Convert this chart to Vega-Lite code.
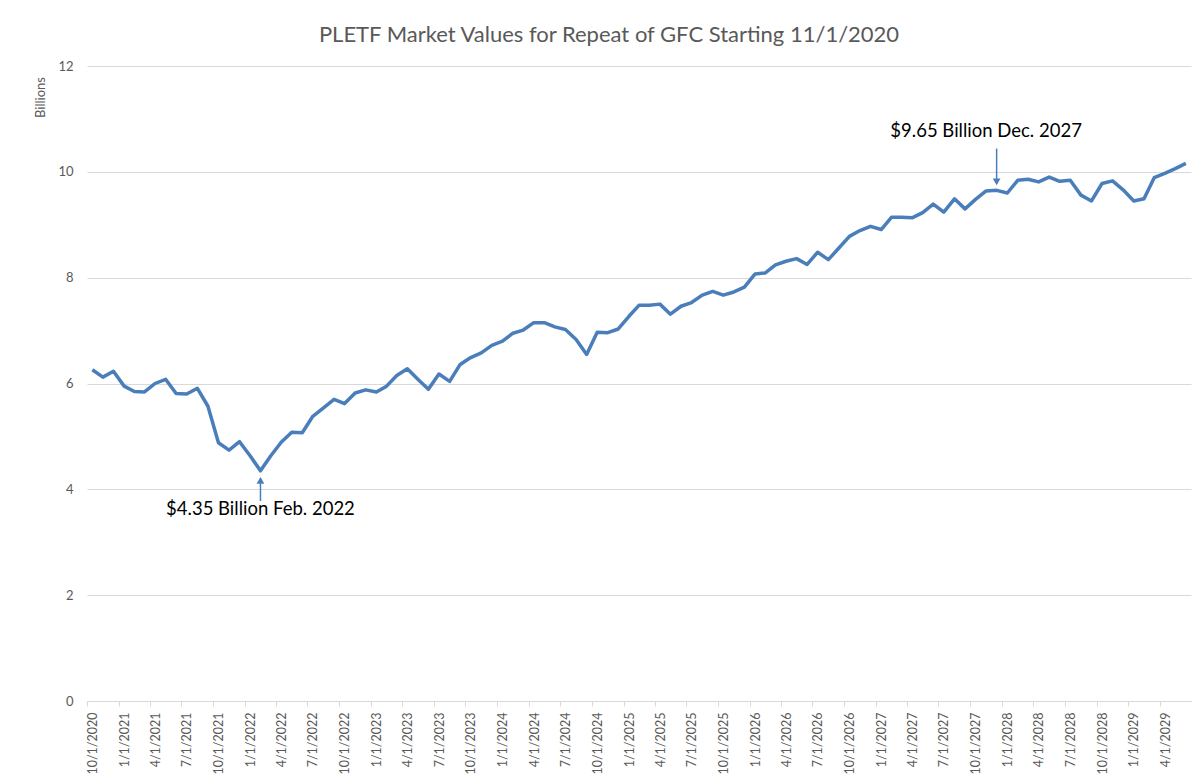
{
  "$schema": "https://vega.github.io/schema/vega-lite/v6.json",
  "autosize": {"type": "none"},
  "padding": {"left": 87, "top": 66, "right": 13, "bottom": 76},
  "width": 1104,
  "height": 635,
  "background": "white",
  "title": {
    "text": "PLETF Market Values for Repeat of GFC Starting 11/1/2020",
    "anchor": "middle",
    "frame": "group",
    "dx": -30,
    "offset": 13,
    "font": "Lato",
    "fontSize": 22,
    "fontWeight": "normal",
    "color": "#595959"
  },
  "config": {
    "view": {"stroke": null},
    "font": "Lato",
    "axis": {"labelOverlap": false}
  },
  "encoding": {
    "x": {
      "field": "date",
      "timeUnit": "yearmonth",
      "type": "temporal",
      "bandPosition": 0.5,
      "scale": {
        "domain": [{"year": 2020, "month": 10, "date": 1}, {"year": 2029, "month": 7, "date": 1}],
        "nice": false
      },
      "axis": {
        "title": null,
        "values": [
          {"year": 2020, "month": 10, "date": 1},
          {"year": 2021, "month": 1, "date": 1}, {"year": 2021, "month": 4, "date": 1}, {"year": 2021, "month": 7, "date": 1}, {"year": 2021, "month": 10, "date": 1},
          {"year": 2022, "month": 1, "date": 1}, {"year": 2022, "month": 4, "date": 1}, {"year": 2022, "month": 7, "date": 1}, {"year": 2022, "month": 10, "date": 1},
          {"year": 2023, "month": 1, "date": 1}, {"year": 2023, "month": 4, "date": 1}, {"year": 2023, "month": 7, "date": 1}, {"year": 2023, "month": 10, "date": 1},
          {"year": 2024, "month": 1, "date": 1}, {"year": 2024, "month": 4, "date": 1}, {"year": 2024, "month": 7, "date": 1}, {"year": 2024, "month": 10, "date": 1},
          {"year": 2025, "month": 1, "date": 1}, {"year": 2025, "month": 4, "date": 1}, {"year": 2025, "month": 7, "date": 1}, {"year": 2025, "month": 10, "date": 1},
          {"year": 2026, "month": 1, "date": 1}, {"year": 2026, "month": 4, "date": 1}, {"year": 2026, "month": 7, "date": 1}, {"year": 2026, "month": 10, "date": 1},
          {"year": 2027, "month": 1, "date": 1}, {"year": 2027, "month": 4, "date": 1}, {"year": 2027, "month": 7, "date": 1}, {"year": 2027, "month": 10, "date": 1},
          {"year": 2028, "month": 1, "date": 1}, {"year": 2028, "month": 4, "date": 1}, {"year": 2028, "month": 7, "date": 1}, {"year": 2028, "month": 10, "date": 1},
          {"year": 2029, "month": 1, "date": 1}, {"year": 2029, "month": 4, "date": 1}
        ],
        "format": "%-m/%-d/%Y",
        "formatType": "time",
        "labelAngle": -90,
        "labelAlign": "right",
        "labelBaseline": "middle",
        "labelOffset": 5.5,
        "labelPadding": 6,
        "labelFontSize": 12.5,
        "labelColor": "#595959",
        "labelOverlap": false,
        "labelFlush": false,
        "labelBound": false,
        "grid": false,
        "domainColor": "#d9d9d9",
        "domainWidth": 1,
        "tickColor": "#d9d9d9",
        "tickSize": 5
      }
    },
    "y": {
      "field": "value",
      "type": "quantitative",
      "scale": {"domain": [0, 12], "nice": false},
      "axis": {
        "title": "Billions",
        "titleAngle": -90,
        "titleX": -47,
        "titleY": 31,
        "titleAlign": "center",
        "titleBaseline": "middle",
        "titleFontSize": 13,
        "titleFontWeight": "normal",
        "titleColor": "#595959",
        "values": [0, 2, 4, 6, 8, 10, 12],
        "labelFontSize": 13,
        "labelColor": "#595959",
        "labelPadding": 14,
        "ticks": false,
        "domain": false,
        "grid": true,
        "gridColor": "#d9d9d9",
        "gridWidth": 1
      }
    }
  },
  "layer": [
    {
      "data": {
        "values": [
          {"date": "2020-10-01", "value": 6.26}, {"date": "2020-11-01", "value": 6.12}, {"date": "2020-12-01", "value": 6.23},
          {"date": "2021-01-01", "value": 5.95}, {"date": "2021-02-01", "value": 5.85}, {"date": "2021-03-01", "value": 5.84},
          {"date": "2021-04-01", "value": 6.00}, {"date": "2021-05-01", "value": 6.08}, {"date": "2021-06-01", "value": 5.81},
          {"date": "2021-07-01", "value": 5.80}, {"date": "2021-08-01", "value": 5.91}, {"date": "2021-09-01", "value": 5.57},
          {"date": "2021-10-01", "value": 4.88}, {"date": "2021-11-01", "value": 4.74}, {"date": "2021-12-01", "value": 4.90},
          {"date": "2022-01-01", "value": 4.63}, {"date": "2022-02-01", "value": 4.35}, {"date": "2022-03-01", "value": 4.63},
          {"date": "2022-04-01", "value": 4.89}, {"date": "2022-05-01", "value": 5.08}, {"date": "2022-06-01", "value": 5.07},
          {"date": "2022-07-01", "value": 5.38}, {"date": "2022-08-01", "value": 5.54}, {"date": "2022-09-01", "value": 5.70},
          {"date": "2022-10-01", "value": 5.62}, {"date": "2022-11-01", "value": 5.82}, {"date": "2022-12-01", "value": 5.88},
          {"date": "2023-01-01", "value": 5.84}, {"date": "2023-02-01", "value": 5.95}, {"date": "2023-03-01", "value": 6.15},
          {"date": "2023-04-01", "value": 6.28}, {"date": "2023-05-01", "value": 6.08}, {"date": "2023-06-01", "value": 5.89},
          {"date": "2023-07-01", "value": 6.18}, {"date": "2023-08-01", "value": 6.04}, {"date": "2023-09-01", "value": 6.36},
          {"date": "2023-10-01", "value": 6.49}, {"date": "2023-11-01", "value": 6.58}, {"date": "2023-12-01", "value": 6.72},
          {"date": "2024-01-01", "value": 6.80}, {"date": "2024-02-01", "value": 6.95}, {"date": "2024-03-01", "value": 7.01},
          {"date": "2024-04-01", "value": 7.15}, {"date": "2024-05-01", "value": 7.15}, {"date": "2024-06-01", "value": 7.07},
          {"date": "2024-07-01", "value": 7.02}, {"date": "2024-08-01", "value": 6.83}, {"date": "2024-09-01", "value": 6.55},
          {"date": "2024-10-01", "value": 6.97}, {"date": "2024-11-01", "value": 6.96}, {"date": "2024-12-01", "value": 7.03},
          {"date": "2025-01-01", "value": 7.27}, {"date": "2025-02-01", "value": 7.48}, {"date": "2025-03-01", "value": 7.48},
          {"date": "2025-04-01", "value": 7.50}, {"date": "2025-05-01", "value": 7.31}, {"date": "2025-06-01", "value": 7.46},
          {"date": "2025-07-01", "value": 7.53}, {"date": "2025-08-01", "value": 7.67}, {"date": "2025-09-01", "value": 7.74},
          {"date": "2025-10-01", "value": 7.67}, {"date": "2025-11-01", "value": 7.73}, {"date": "2025-12-01", "value": 7.82},
          {"date": "2026-01-01", "value": 8.07}, {"date": "2026-02-01", "value": 8.09}, {"date": "2026-03-01", "value": 8.24},
          {"date": "2026-04-01", "value": 8.31}, {"date": "2026-05-01", "value": 8.36}, {"date": "2026-06-01", "value": 8.25},
          {"date": "2026-07-01", "value": 8.48}, {"date": "2026-08-01", "value": 8.34}, {"date": "2026-09-01", "value": 8.56},
          {"date": "2026-10-01", "value": 8.78}, {"date": "2026-11-01", "value": 8.89}, {"date": "2026-12-01", "value": 8.97},
          {"date": "2027-01-01", "value": 8.91}, {"date": "2027-02-01", "value": 9.14}, {"date": "2027-03-01", "value": 9.14},
          {"date": "2027-04-01", "value": 9.13}, {"date": "2027-05-01", "value": 9.23}, {"date": "2027-06-01", "value": 9.39},
          {"date": "2027-07-01", "value": 9.24}, {"date": "2027-08-01", "value": 9.49}, {"date": "2027-09-01", "value": 9.30},
          {"date": "2027-10-01", "value": 9.48}, {"date": "2027-11-01", "value": 9.64}, {"date": "2027-12-01", "value": 9.65},
          {"date": "2028-01-01", "value": 9.60}, {"date": "2028-02-01", "value": 9.84}, {"date": "2028-03-01", "value": 9.86},
          {"date": "2028-04-01", "value": 9.81}, {"date": "2028-05-01", "value": 9.90}, {"date": "2028-06-01", "value": 9.82},
          {"date": "2028-07-01", "value": 9.84}, {"date": "2028-08-01", "value": 9.56}, {"date": "2028-09-01", "value": 9.45},
          {"date": "2028-10-01", "value": 9.78}, {"date": "2028-11-01", "value": 9.83}, {"date": "2028-12-01", "value": 9.66},
          {"date": "2029-01-01", "value": 9.45}, {"date": "2029-02-01", "value": 9.49}, {"date": "2029-03-01", "value": 9.89},
          {"date": "2029-04-01", "value": 9.97}, {"date": "2029-05-01", "value": 10.06}, {"date": "2029-06-01", "value": 10.16}
        ],
        "format": {"parse": {"date": "date:'%Y-%m-%d'"}}
      },
      "mark": {"type": "line", "color": "#4a7ebb", "strokeWidth": 3.5, "strokeJoin": "round"}
    },
    {
      "data": {
        "values": [
          {"date": "2022-02-01", "value": 3.78, "tip": 4.20},
          {"date": "2027-12-01", "value": 10.44, "tip": 9.78}
        ],
        "format": {"parse": {"date": "date:'%Y-%m-%d'"}}
      },
      "mark": {"type": "rule", "color": "#4a7ebb", "strokeWidth": 1.5},
      "encoding": {
        "y2": {"field": "tip"}
      }
    },
    {
      "data": {
        "values": [
          {"date": "2022-02-01", "value": 4.17, "shape": "triangle-up"},
          {"date": "2027-12-01", "value": 9.81, "shape": "triangle-down"}
        ],
        "format": {"parse": {"date": "date:'%Y-%m-%d'"}}
      },
      "mark": {"type": "point", "filled": true, "color": "#4a7ebb", "size": 60, "opacity": 1},
      "encoding": {
        "shape": {"field": "shape", "type": "nominal", "scale": null, "legend": null}
      }
    },
    {
      "data": {
        "values": [
          {"date": "2022-02-01", "value": 3.62, "label": "$4.35 Billion Feb. 2022"},
          {"date": "2027-11-01", "value": 10.78, "label": "$9.65 Billion Dec. 2027"}
        ],
        "format": {"parse": {"date": "date:'%Y-%m-%d'"}}
      },
      "mark": {"type": "text", "fontSize": 18.5, "color": "#000000", "baseline": "middle", "align": "center"},
      "encoding": {
        "text": {"field": "label", "type": "nominal"}
      }
    }
  ]
}
